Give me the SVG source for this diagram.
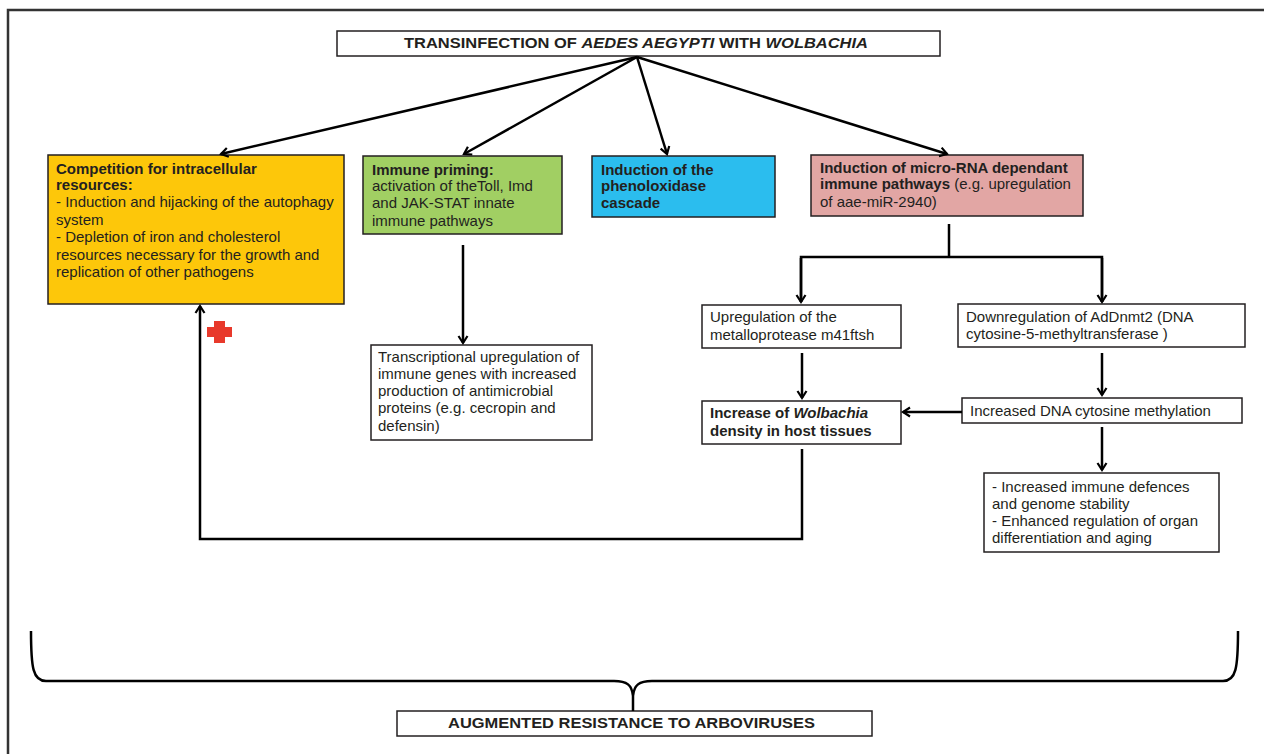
<svg xmlns="http://www.w3.org/2000/svg" width="1264" height="754" viewBox="0 0 1264 754">
<defs>
<style>
.t{font-family:"Liberation Sans",Arial,sans-serif;font-size:15px;fill:#231F20}
.b{font-weight:bold}
.i{font-style:italic}
.box{stroke:#231F20;stroke-width:1.5}
.c{fill:none;stroke:#000;stroke-width:2.5}
</style>
<marker id="ah" markerWidth="12" markerHeight="12" viewBox="-1 -6 10 12" refX="7" refY="0" orient="auto" markerUnits="userSpaceOnUse">
<path d="M0,-4.5 L7,0 L0,4.5" fill="none" stroke="#000" stroke-width="2.2"/>
</marker>
</defs>
<rect width="1264" height="754" fill="#fff"/>
<path d="M8,756 V10 H1266" fill="none" stroke="#333" stroke-width="2.5"/>

<g id="title">
<rect class="box" x="337" y="31" width="603" height="25" fill="#fff"/>
<text class="t b" x="404" y="48" textLength="464" lengthAdjust="spacingAndGlyphs">TRANSINFECTION OF <tspan class="i">AEDES AEGYPTI</tspan> WITH <tspan class="i">WOLBACHIA</tspan></text>
</g>

<g id="competition">
<rect class="box" x="48" y="155" width="296" height="149" fill="#FDC70A"/>
<text class="t" x="56"><tspan class="b" x="56" y="174">Competition for intracellular</tspan><tspan class="b" x="56" y="190">resources:</tspan><tspan x="56" y="207">- Induction and hijacking of the autophagy</tspan><tspan x="56" y="225">system</tspan><tspan x="56" y="242">- Depletion of iron and cholesterol</tspan><tspan x="56" y="260">resources necessary for the growth and</tspan><tspan x="56" y="277">replication of other pathogens</tspan></text>
</g>

<g id="priming">
<rect class="box" x="363" y="156" width="199" height="78" fill="#A1CF63"/>
<text class="t"><tspan class="b" x="372" y="175">Immune priming:</tspan><tspan x="372" y="191">activation of theToll, Imd</tspan><tspan x="372" y="208">and JAK-STAT innate</tspan><tspan x="372" y="226">immune pathways</tspan></text>
</g>

<g id="phenoloxidase">
<rect class="box" x="592" y="156" width="183" height="61" fill="#2BBDEE"/>
<text class="t b"><tspan x="601" y="175">Induction of the</tspan><tspan x="601" y="191">phenoloxidase</tspan><tspan x="601" y="208">cascade</tspan></text>
</g>

<g id="microrna">
<rect class="box" x="811" y="155" width="272" height="61" fill="#E2A6A4"/>
<text class="t"><tspan class="b" x="820" y="173">Induction of micro-RNA dependant</tspan><tspan class="b" x="820" y="189">immune pathways</tspan><tspan> (e.g. upregulation</tspan><tspan x="820" y="207">of aae-miR-2940)</tspan></text>
</g>

<g id="transcriptional">
<rect class="box" x="371" y="345" width="221" height="95" fill="#fff"/>
<text class="t"><tspan x="378" y="362">Transcriptional upregulation of</tspan><tspan x="378" y="379">immune genes with increased</tspan><tspan x="378" y="396">production of antimicrobial</tspan><tspan x="378" y="413">proteins (e.g. cecropin and</tspan><tspan x="378" y="431">defensin)</tspan></text>
</g>

<g id="upregulation">
<rect class="box" x="702" y="305" width="199" height="43" fill="#fff"/>
<text class="t"><tspan x="710" y="322">Upregulation of the</tspan><tspan x="710" y="340">metalloprotease m41ftsh</tspan></text>
</g>

<g id="downregulation">
<rect class="box" x="958" y="304" width="287" height="43" fill="#fff"/>
<text class="t"><tspan x="966" y="322">Downregulation of AdDnmt2 (DNA</tspan><tspan x="966" y="339">cytosine-5-methyltransferase )</tspan></text>
</g>

<g id="increase">
<rect class="box" x="702" y="401" width="199" height="43" fill="#fff"/>
<text class="t b"><tspan x="710" y="418">Increase of <tspan class="i">Wolbachia</tspan></tspan><tspan x="710" y="436">density in host tissues</tspan></text>
</g>

<g id="methylation">
<rect class="box" x="962" y="398" width="280" height="25" fill="#fff"/>
<text class="t" x="970" y="416">Increased DNA cytosine methylation</text>
</g>

<g id="effects">
<rect class="box" x="984" y="473" width="235" height="79" fill="#fff"/>
<text class="t"><tspan x="992" y="492">- Increased immune defences</tspan><tspan x="992" y="509">and genome stability</tspan><tspan x="992" y="526">- Enhanced regulation of organ</tspan><tspan x="992" y="543">differentiation and aging</tspan></text>
</g>

<g id="resistance">
<rect class="box" x="397" y="711" width="475" height="25" fill="#fff"/>
<text class="t b" x="448" y="728" font-size="14" textLength="367" lengthAdjust="spacingAndGlyphs">AUGMENTED RESISTANCE TO ARBOVIRUSES</text>
</g>

<g id="plus">
<path d="M214,321 h11 v6 h7 v10 h-7 v6 h-11 v-6 h-7 v-10 h7 z" fill="#E8392B"/>
</g>

<g id="connectors">
<line class="c" x1="637" y1="57" x2="221" y2="154" marker-end="url(#ah)"/>
<line class="c" x1="637" y1="57" x2="464" y2="154" marker-end="url(#ah)"/>
<line class="c" x1="637" y1="57" x2="667" y2="154" marker-end="url(#ah)"/>
<line class="c" x1="637" y1="57" x2="947" y2="154" marker-end="url(#ah)"/>
<line class="c" x1="463" y1="245" x2="463" y2="343" marker-end="url(#ah)"/>
<polyline class="c" points="949,224 949,257"/>
<polyline class="c" points="801,302 801,257 1102,257 1102,302"/>
<line class="c" x1="801" y1="258" x2="801" y2="302" marker-end="url(#ah)"/>
<line class="c" x1="1102" y1="258" x2="1102" y2="302" marker-end="url(#ah)"/>
<line class="c" x1="802" y1="353" x2="802" y2="398" marker-end="url(#ah)"/>
<line class="c" x1="1102" y1="353" x2="1102" y2="395" marker-end="url(#ah)"/>
<line class="c" x1="962" y1="412" x2="903" y2="412" marker-end="url(#ah)"/>
<line class="c" x1="1102" y1="427" x2="1102" y2="470" marker-end="url(#ah)"/>
<polyline class="c" points="802,449 802,539 200,539 200,306" marker-end="url(#ah)"/>
<path class="c" stroke-width="2" d="M31,631 C31,668 33,681 46,681 H614 C627,681 632,685 633,696 M1238,631 C1238,668 1236,681 1223,681 H652 C639,681 634,685 633,696 V711"/>
</g>
</svg>
